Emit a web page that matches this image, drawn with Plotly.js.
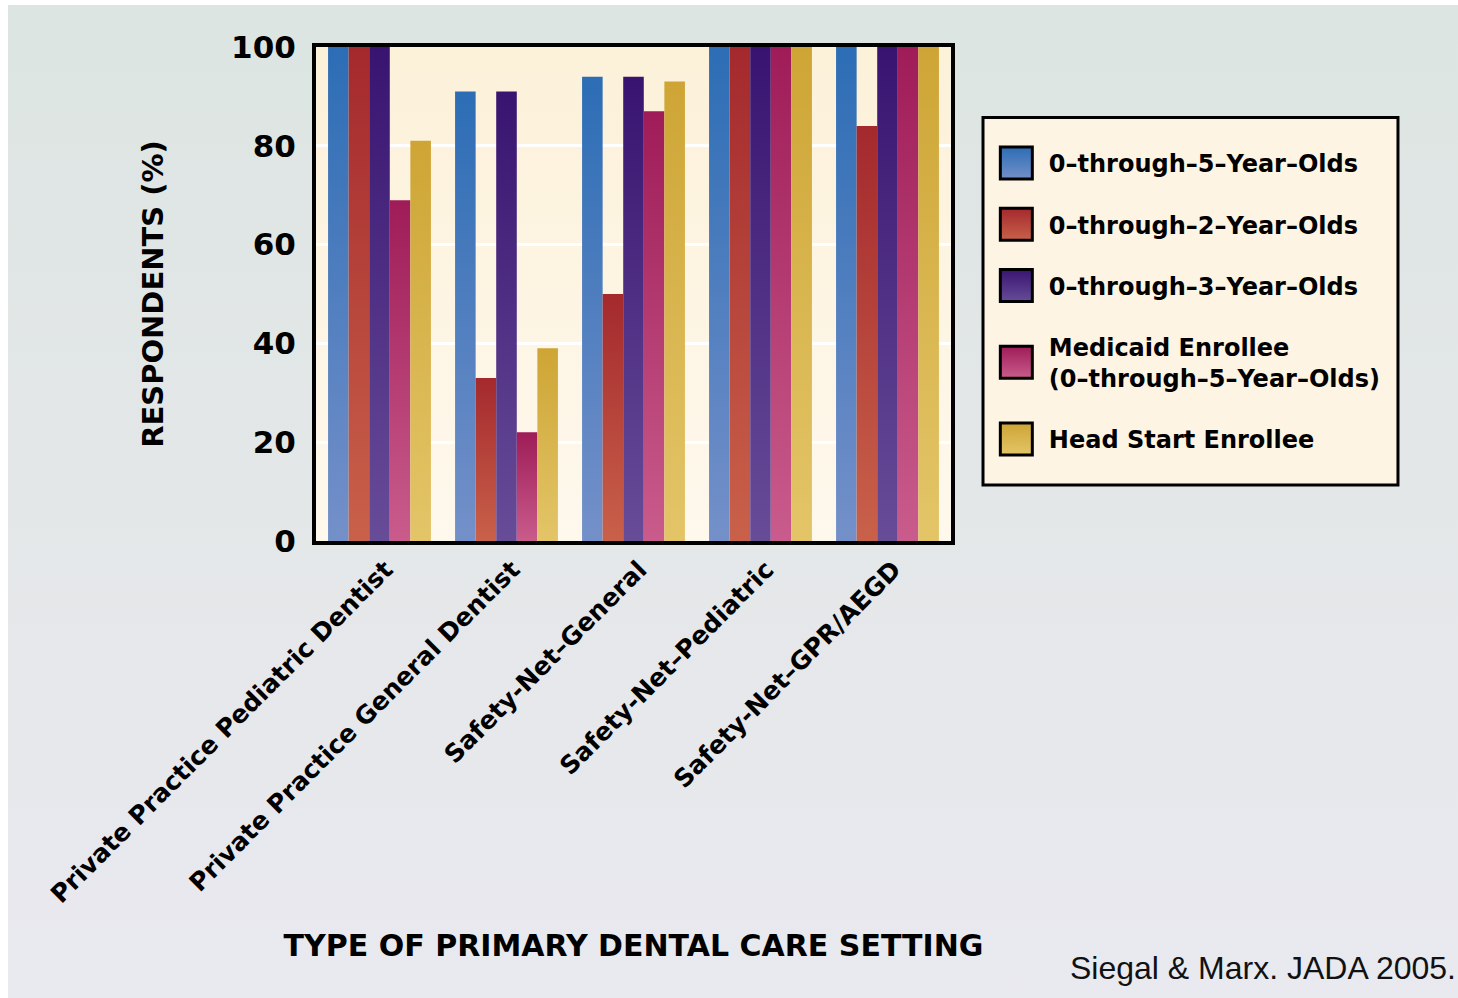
<!DOCTYPE html>
<html>
<head>
<meta charset="utf-8">
<script src="https://cdn.plot.ly/plotly-3.0.1.min.js"></script>
<style>
  html, body { margin: 0; padding: 0; background: #ffffff; }
  #panel {
    position: absolute; left: 8px; top: 5px; width: 1450px; height: 993px;
    background: linear-gradient(to bottom, #dce5e2 0%, #e4e7e8 50%, #e9e9f0 100%);
  }
  #chart { position: absolute; left: 0; top: 0; width: 1458px; height: 998px; }
</style>
</head>
<body>
<div id="panel"></div>
<div id="chart"></div>
<script>
// Care settings (x categories)
const settings = [
  "Private Practice Pediatric Dentist",
  "Private Practice General Dentist",
  "Safety-Net–General",
  "Safety-Net–Pediatric",
  "Safety-Net–GPR/AEGD"
];

// Percent of respondents who see each patient group
const age0to5 = [100, 91, 94, 100, 100];
const age0to2 = [100, 33, 50, 100, 84];
const age0to3 = [100, 91, 94, 100, 100];
const medicaid0to5 = [69, 22, 87, 100, 100];
const headStart = [81, 39, 93, 100, 100];

const seriesNames = [
  "0–through–5–Year–Olds",
  "0–through–2–Year–Olds",
  "0–through–3–Year–Olds",
  "Medicaid Enrollee<br>(0–through–5–Year–Olds)",
  "Head Start Enrollee"
];
const seriesValues = [age0to5, age0to2, age0to3, medicaid0to5, headStart];

// top / bottom shades of each series' vertical gradient
const seriesShades = [
  ["#2c6db5", "#7490c9"],
  ["#a4292d", "#c9614a"],
  ["#381470", "#674c98"],
  ["#9f1c58", "#c95c8c"],
  ["#cea535", "#e3c568"]
];

const yTicks = [0, 20, 40, 60, 80, 100];

const heavy = "DejaVu Sans, Verdana, sans-serif";

const traces = seriesValues.map((vals, i) => ({
  type: "bar",
  name: seriesNames[i],
  x: settings,
  y: vals,
  legendgroup: "g" + i,
  marker: { color: seriesShades[i][0], line: { width: 0 } },
  hoverinfo: "x+y+name"
}));

const layout = {
  width: 1458,
  height: 998,
  margin: { l: 316, r: 507, t: 47, b: 457 },
  paper_bgcolor: "rgba(0,0,0,0)",
  plot_bgcolor: "#fdf4e2",
  barmode: "group",
  bargap: 0.19,
  bargroupgap: 0,
  showlegend: true,
  legend: {
    x: 1.0517, y: 0.8097, xanchor: "left", yanchor: "top",
    bgcolor: "rgba(0,0,0,0)", borderwidth: 0,
    font: { family: heavy, size: 24, color: "#000", weight: 700 },
    traceorder: "grouped",
    tracegroupgap: 27,
    itemwidth: 55
  },
  xaxis: {
    type: "category",
    tickangle: -45,
    tickfont: { family: heavy, size: 25, color: "#000", weight: 700 },
    ticklabelshift: 6,
    showline: true, linecolor: "#000", linewidth: 4, mirror: true,
    showgrid: false, ticks: "",
    automargin: true,
    title: {
      text: "TYPE OF PRIMARY DENTAL CARE SETTING",
      font: { family: heavy, size: 30, color: "#000", weight: 700 },
      standoff: 28
    }
  },
  yaxis: {
    range: [0, 100],
    tickvals: yTicks,
    ticktext: yTicks.map(String),
    tickfont: { family: heavy, size: 31, color: "#000", weight: 700 },
    ticklabelstandoff: 10,
    showline: true, linecolor: "#000", linewidth: 4, mirror: true,
    showgrid: true, gridcolor: "#ffffff", gridwidth: 3,
    zeroline: false, ticks: "",
    automargin: true,
    title: {
      text: "RESPONDENTS (%)",
      font: { family: heavy, size: 29, color: "#000", weight: 700 },
      standoff: 60
    }
  },
  shapes: [{
    type: "rect", xref: "paper", yref: "paper",
    x0: 1.0504, x1: 1.7039, y0: 0.1135, y1: 0.8571,
    fillcolor: "#fdf4e4", line: { color: "#000", width: 3 },
    layer: "below"
  }],
  annotations: [{
    xref: "paper", yref: "paper",
    x: 1.798, y: -0.865, xanchor: "right", yanchor: "middle",
    text: "Siegal & Marx. JADA 2005.",
    showarrow: false,
    font: { family: "Liberation Sans, Arial, sans-serif", size: 32, color: "#111" }
  }]
};

const SVGNS = "http://www.w3.org/2000/svg";
function addGradient(defs, id, top, bottom) {
  const g = document.createElementNS(SVGNS, "linearGradient");
  g.setAttribute("id", id);
  g.setAttribute("x1", "0"); g.setAttribute("y1", "0");
  g.setAttribute("x2", "0"); g.setAttribute("y2", "1");
  [[0, top], [1, bottom]].forEach(([off, col]) => {
    const s = document.createElementNS(SVGNS, "stop");
    s.setAttribute("offset", off);
    s.setAttribute("stop-color", col);
    g.appendChild(s);
  });
  defs.appendChild(g);
}

Plotly.newPlot("chart", traces, layout, { displayModeBar: false }).then(gd => {
  const svgs = gd.querySelectorAll("svg.main-svg");
  const defs = document.createElementNS(SVGNS, "defs");
  seriesShades.forEach((s, i) => addGradient(defs, "barShade" + i, s[0], s[1]));
  addGradient(defs, "plotShade", "#fcf1d9", "#fef8ed");
  svgs.forEach(svg => svg.insertBefore(defs.cloneNode(true), svg.firstChild));

  // shaded bars
  gd.querySelectorAll(".barlayer .trace.bars").forEach((tr, i) => {
    tr.querySelectorAll(".point path").forEach(p => {
      p.style.fill = "url(#barShade" + i + ")";
    });
  });
  // shaded plot background
  const bg = gd.querySelector(".bglayer rect.bg");
  if (bg) bg.style.fill = "url(#plotShade)";

  // larger outlined legend swatches
  gd.querySelectorAll(".legend .traces").forEach((tr, i) => {
    tr.querySelectorAll("path.legendbar, path.legendundefined").forEach(p => {
      p.setAttribute("d", "M16,16H-16V-16H16Z");
      p.style.fill = "url(#barShade" + i + ")";
      p.style.stroke = "#000";
      p.style.strokeWidth = "3px";
    });
  });
});
</script>
</body>
</html>
